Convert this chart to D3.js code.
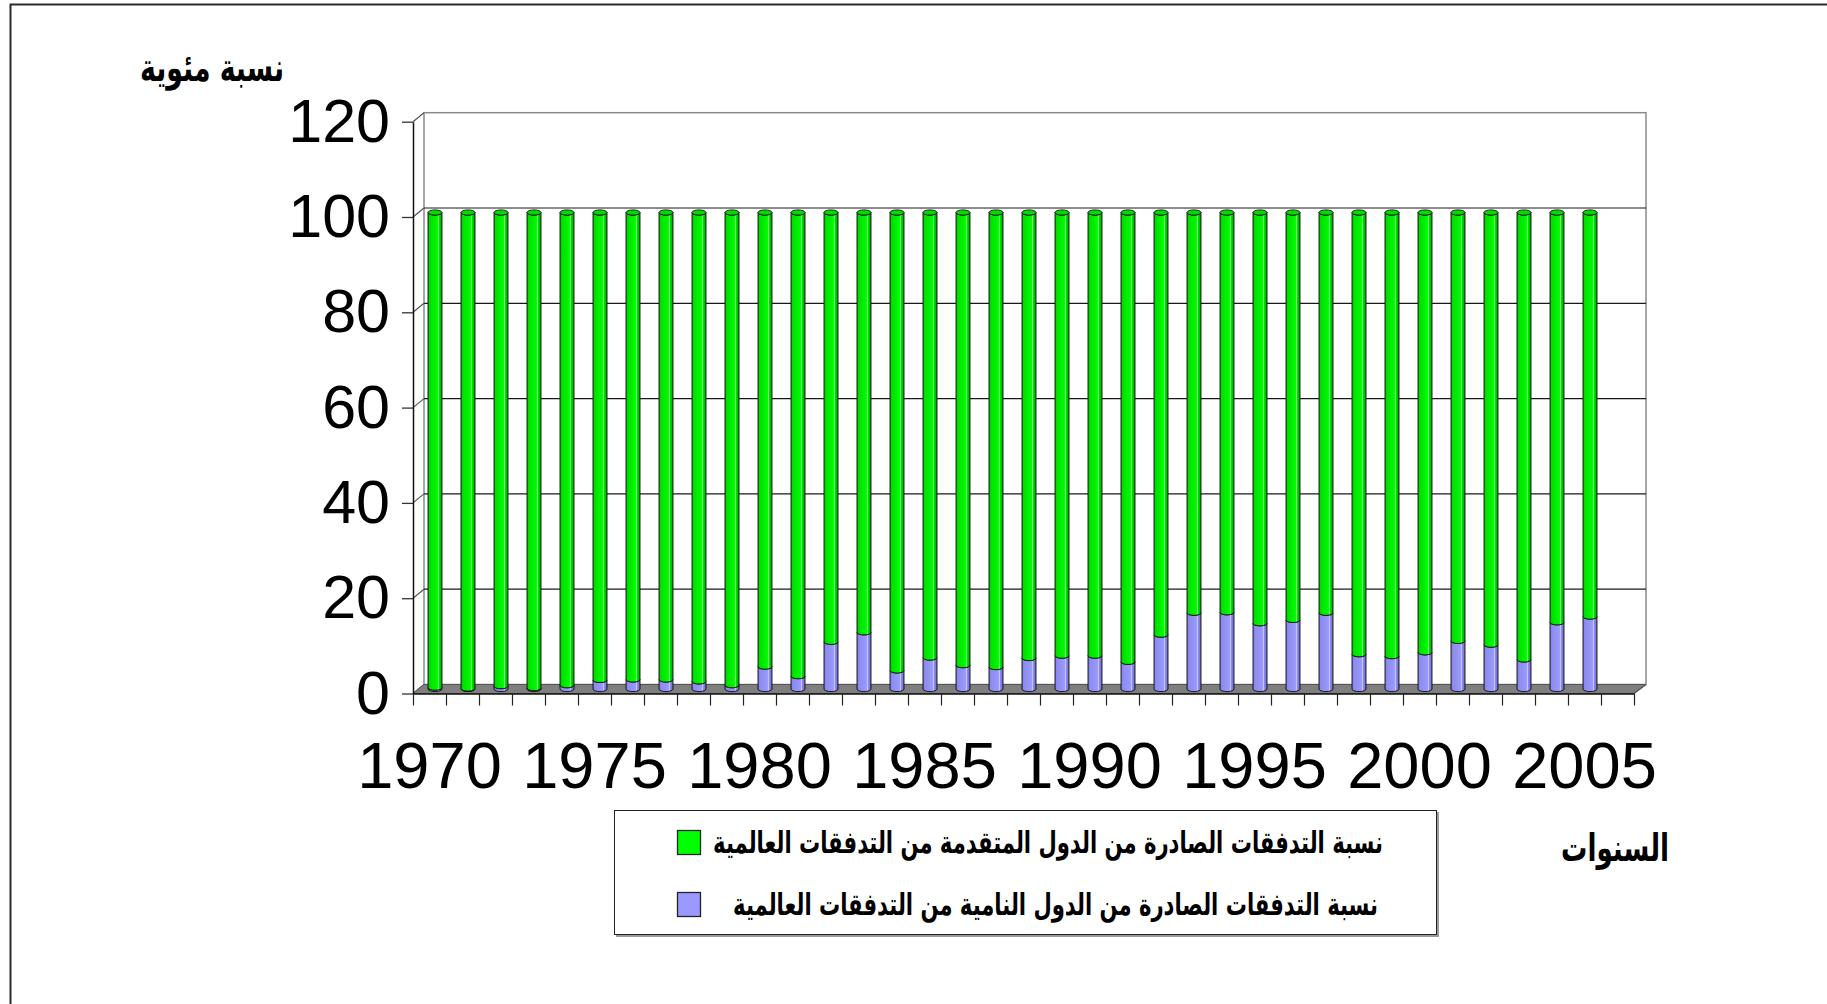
<!DOCTYPE html>
<html lang="ar">
<head>
<meta charset="UTF-8">
<title>Cylinder chart</title>
<script src="https://d3js.org/d3.v7.min.js"></script>
<style>
  html, body { margin: 0; padding: 0; background: #fff; }
  svg { display: block; }
</style>
</head>
<body>
<div id="chart"></div>
<script>
// data
var years = [1970, 1971, 1972, 1973, 1974, 1975, 1976, 1977, 1978, 1979,
             1980, 1981, 1982, 1983, 1984, 1985, 1986, 1987, 1988, 1989,
             1990, 1991, 1992, 1993, 1994, 1995, 1996, 1997, 1998, 1999,
             2000, 2001, 2002, 2003, 2004, 2005];
// share of outflows from developing countries (purple)
var developing = [0.3, 0.1, 0.6, 0.2, 0.8, 1.9, 2.0, 2.0, 1.6, 0.8,
                  4.7, 2.7, 9.9, 11.9, 3.9, 6.6, 5.0, 4.6, 6.5, 7.0,
                  7.0, 5.7, 11.4, 16.0, 16.1, 13.8, 14.5, 16.0, 7.3, 6.9,
                  7.7, 10.1, 9.3, 6.2, 14.0, 15.2];
// share of outflows from developed countries (green)
var developed = [99.7, 99.9, 99.4, 99.8, 99.2, 98.1, 98.0, 98.0, 98.4, 99.2,
                 95.3, 97.3, 90.1, 88.1, 96.1, 93.4, 95.0, 95.4, 93.5, 93.0,
                 93.0, 94.3, 88.6, 84.0, 83.9, 86.2, 85.5, 84.0, 92.7, 93.1,
                 92.3, 89.9, 90.7, 93.8, 86.0, 84.8];
var xTickLabels = [1970, 1975, 1980, 1985, 1990, 1995, 2000, 2005];
var yTicks = [0, 20, 40, 60, 80, 100, 120];
var seriesNames = ["نسبة التدفقات الصادرة من الدول المتقدمة من التدفقات العالمية",
                   "نسبة التدفقات الصادرة من الدول النامية من التدفقات العالمية"];
var yTitle = "نسبة مئوية";
var xTitle = "السنوات";

var W = 1827, H = 1004;
var pLeft = 413, pRight = 1634, pBottom = 693.5, pTop = 121.7;
var dx = 11, dy = 9;       // 3d depth
var bw = 14, ry = 2.6;     // cylinder width and ellipse
var arabicFont = "'DejaVu Sans Condensed', 'DejaVu Sans', sans-serif";
var numFont = "'Liberation Sans', Arial, sans-serif";

var svg = d3.select('#chart').append('svg')
    .attr('width', W)
    .attr('height', H);

// frame
svg.append('path')
    .attr('d', 'M10.5,' + H + 'V4.5H' + W)
    .attr('fill', 'none')
    .attr('stroke', '#2a2a2a')
    .attr('stroke-width', 2);

var slots = years.concat(['blank']);
var x = d3.scaleBand().domain(slots).range([pLeft, pRight]).paddingInner(0).paddingOuter(0);
var xi = d3.scaleLinear().domain([0, slots.length]).range([pLeft, pRight]);
var y = d3.scaleLinear().domain([0, 120]).range([pBottom, pTop]);

var defs = svg.append('defs');
function grad(id, stops) {
    var g = defs.append('linearGradient').attr('id', id)
        .attr('x1', '0%').attr('x2', '100%').attr('y1', '0%').attr('y2', '0%');
    stops.forEach(function (s) {
        g.append('stop').attr('offset', s[0]).attr('stop-color', s[1]);
    });
}
grad('gGreen', [['0%', '#00a800'], ['12%', '#00e000'], ['55%', '#00f200'], ['68%', '#00ff00'],
                ['74%', '#8cff8c'], ['80%', '#00e400'], ['100%', '#009a00']]);
grad('gPurple', [['0%', '#6d6dd2'], ['12%', '#8c8cee'], ['55%', '#9696fa'], ['68%', '#9c9cff'],
                 ['74%', '#cdcdff'], ['80%', '#8e8ef0'], ['100%', '#6666c0']]);

// back wall
svg.append('rect')
    .attr('x', pLeft + dx).attr('y', pTop - dy)
    .attr('width', pRight - pLeft + 1).attr('height', pBottom - pTop)
    .attr('fill', '#fff')
    .attr('stroke', '#8a8a8a')
    .attr('stroke-width', 1.5);

// gridlines on back wall + side wall diagonals
var grid = svg.append('g');
yTicks.forEach(function (t) {
    if (t > 0 && t < 120) {
        grid.append('line')
            .attr('x1', pLeft + dx).attr('x2', pRight + dx + 1)
            .attr('y1', y(t) - dy).attr('y2', y(t) - dy)
            .attr('stroke', '#1a1a1a').attr('stroke-width', 1.2);
    }
    grid.append('line')
        .attr('x1', pLeft).attr('x2', pLeft + dx)
        .attr('y1', y(t)).attr('y2', y(t) - dy)
        .attr('stroke', '#555').attr('stroke-width', 1.2);
});

// floor
svg.append('path')
    .attr('d', 'M' + pLeft + ',' + pBottom + 'L' + (pLeft + dx) + ',' + (pBottom - dy) +
               'L' + (pRight + dx + 1) + ',' + (pBottom - dy) + 'L' + pRight + ',' + pBottom + 'Z')
    .attr('fill', '#7f7f7f')
    .attr('stroke', '#555')
    .attr('stroke-width', 1);

// cylinders
var stacked = d3.stack().keys(['developing', 'developed'])(years.map(function (yr, i) {
    return { year: yr, developing: developing[i], developed: developed[i] };
}));
var fills = ['url(#gPurple)', 'url(#gGreen)'];

function cyl(d) {
    var cx = x(d.data.year) + x.bandwidth() / 2 + dx / 2;
    var l = cx - bw / 2, r = cx + bw / 2;
    var yb = y(d[0]) - dy / 2, yt = y(d[1]) - dy / 2;
    return 'M' + l + ',' + yt + 'L' + l + ',' + yb +
           'A' + (bw / 2) + ',' + ry + ' 0 0 0 ' + r + ',' + yb +
           'L' + r + ',' + yt +
           'A' + (bw / 2) + ',' + ry + ' 0 0 1 ' + l + ',' + yt + 'Z';
}

var bars = svg.append('g');
stacked.forEach(function (s, k) {
    bars.append('g').selectAll('path')
        .data(s)
        .join('path')
        .attr('d', cyl)
        .attr('fill', fills[k])
        .attr('stroke', '#111')
        .attr('stroke-width', 0.9);
});
// top caps
bars.append('g').selectAll('ellipse')
    .data(stacked[1])
    .join('ellipse')
    .attr('cx', function (d) { return x(d.data.year) + x.bandwidth() / 2 + dx / 2; })
    .attr('cy', function (d) { return y(d[1]) - dy / 2; })
    .attr('rx', bw / 2)
    .attr('ry', ry)
    .attr('fill', '#00dc00')
    .attr('stroke', '#111')
    .attr('stroke-width', 0.9);

// y axis
var yAxis = svg.append('g')
    .attr('transform', 'translate(' + pLeft + ',0)')
    .call(d3.axisLeft(y).tickValues(yTicks).tickSize(11).tickSizeOuter(0).tickPadding(12));
yAxis.select('.domain').attr('stroke', '#111').attr('stroke-width', 1.5);
yAxis.selectAll('.tick line').attr('stroke', '#333').attr('stroke-width', 1.3);
yAxis.selectAll('.tick text')
    .attr('font-family', numFont)
    .attr('font-size', 61)
    .attr('fill', '#000');
yAxis.attr('font-family', null).attr('font-size', null);

// x axis ticks at category boundaries
var xTicks = svg.append('g')
    .attr('transform', 'translate(0,' + pBottom + ')')
    .call(d3.axisBottom(xi).tickValues(d3.range(slots.length + 1)).tickSize(12).tickSizeOuter(0).tickFormat(''));
xTicks.select('.domain').attr('stroke', '#111').attr('stroke-width', 1.5);
xTicks.selectAll('.tick line').attr('stroke', '#222').attr('stroke-width', 1.2);
// right side of floor
svg.append('line')
    .attr('x1', pRight).attr('y1', pBottom)
    .attr('x2', pRight + dx + 1).attr('y2', pBottom - dy)
    .attr('stroke', '#555').attr('stroke-width', 1.2);

// x labels
var xLabels = svg.append('g')
    .attr('transform', 'translate(0,' + pBottom + ')')
    .call(d3.axisBottom(x).tickValues(xTickLabels).tickSize(0).tickPadding(48));
xLabels.select('.domain').remove();
xLabels.selectAll('.tick text')
    .attr('font-family', numFont)
    .attr('font-size', 65)
    .attr('fill', '#000');
xLabels.attr('font-family', null).attr('font-size', null);

// arabic text helpers
function fitText(sel, width) {
    var w = sel.node().getComputedTextLength();
    var fs = parseFloat(sel.attr('font-size'));
    sel.attr('font-size', fs * width / w);
}
function alignRight(sel, xr) {
    var b = sel.node().getBBox();
    sel.attr('x', parseFloat(sel.attr('x')) + (xr - (b.x + b.width)));
}
// the original face is taller than DejaVu, stretch a bit vertically
function stretch(sel, cy) {
    sel.attr('transform', 'translate(0,' + cy + ') scale(1,1.3) translate(0,' + (-cy) + ')');
}
function arText(txt, xr, cy, width) {
    var t = svg.append('text')
        .attr('x', xr)
        .attr('y', cy)
        .attr('dy', '0.33em')
        .attr('font-family', arabicFont)
        .attr('font-weight', 'bold')
        .attr('font-size', 30)
        .attr('fill', '#000')
        .text(txt);
    if (width) fitText(t, width);
    alignRight(t, xr);
    stretch(t, cy);
    return t;
}

// titles
arText(yTitle, 284, 68, 144);
arText(xTitle, 1669, 849, 108);

// legend
svg.append('rect')
    .attr('x', 616).attr('y', 812)
    .attr('width', 823).attr('height', 125)
    .attr('fill', '#9a9a9a');
svg.append('rect')
    .attr('x', 614.5).attr('y', 810.5)
    .attr('width', 822).attr('height', 124)
    .attr('fill', '#fff')
    .attr('stroke', '#222')
    .attr('stroke-width', 1);

var swatchFills = ['#00ff00', '#9999ff'];
var rowsY = [842.5, 904.5];
var t1 = arText(seriesNames[0], 1383, rowsY[0], 670);
var t2 = svg.append('text')
    .attr('x', 1378).attr('y', rowsY[1]).attr('dy', '0.33em')
    .attr('font-family', arabicFont).attr('font-weight', 'bold')
    .attr('font-size', t1.attr('font-size'))
    .attr('fill', '#000')
    .text(seriesNames[1]);
alignRight(t2, 1378);
stretch(t2, rowsY[1]);
rowsY.forEach(function (cy, i) {
    svg.append('rect')
        .attr('x', 677.5).attr('y', cy - 12)
        .attr('width', 23).attr('height', 24)
        .attr('fill', swatchFills[i])
        .attr('stroke', '#222')
        .attr('stroke-width', 1.3);
});
</script>
</body>
</html>
